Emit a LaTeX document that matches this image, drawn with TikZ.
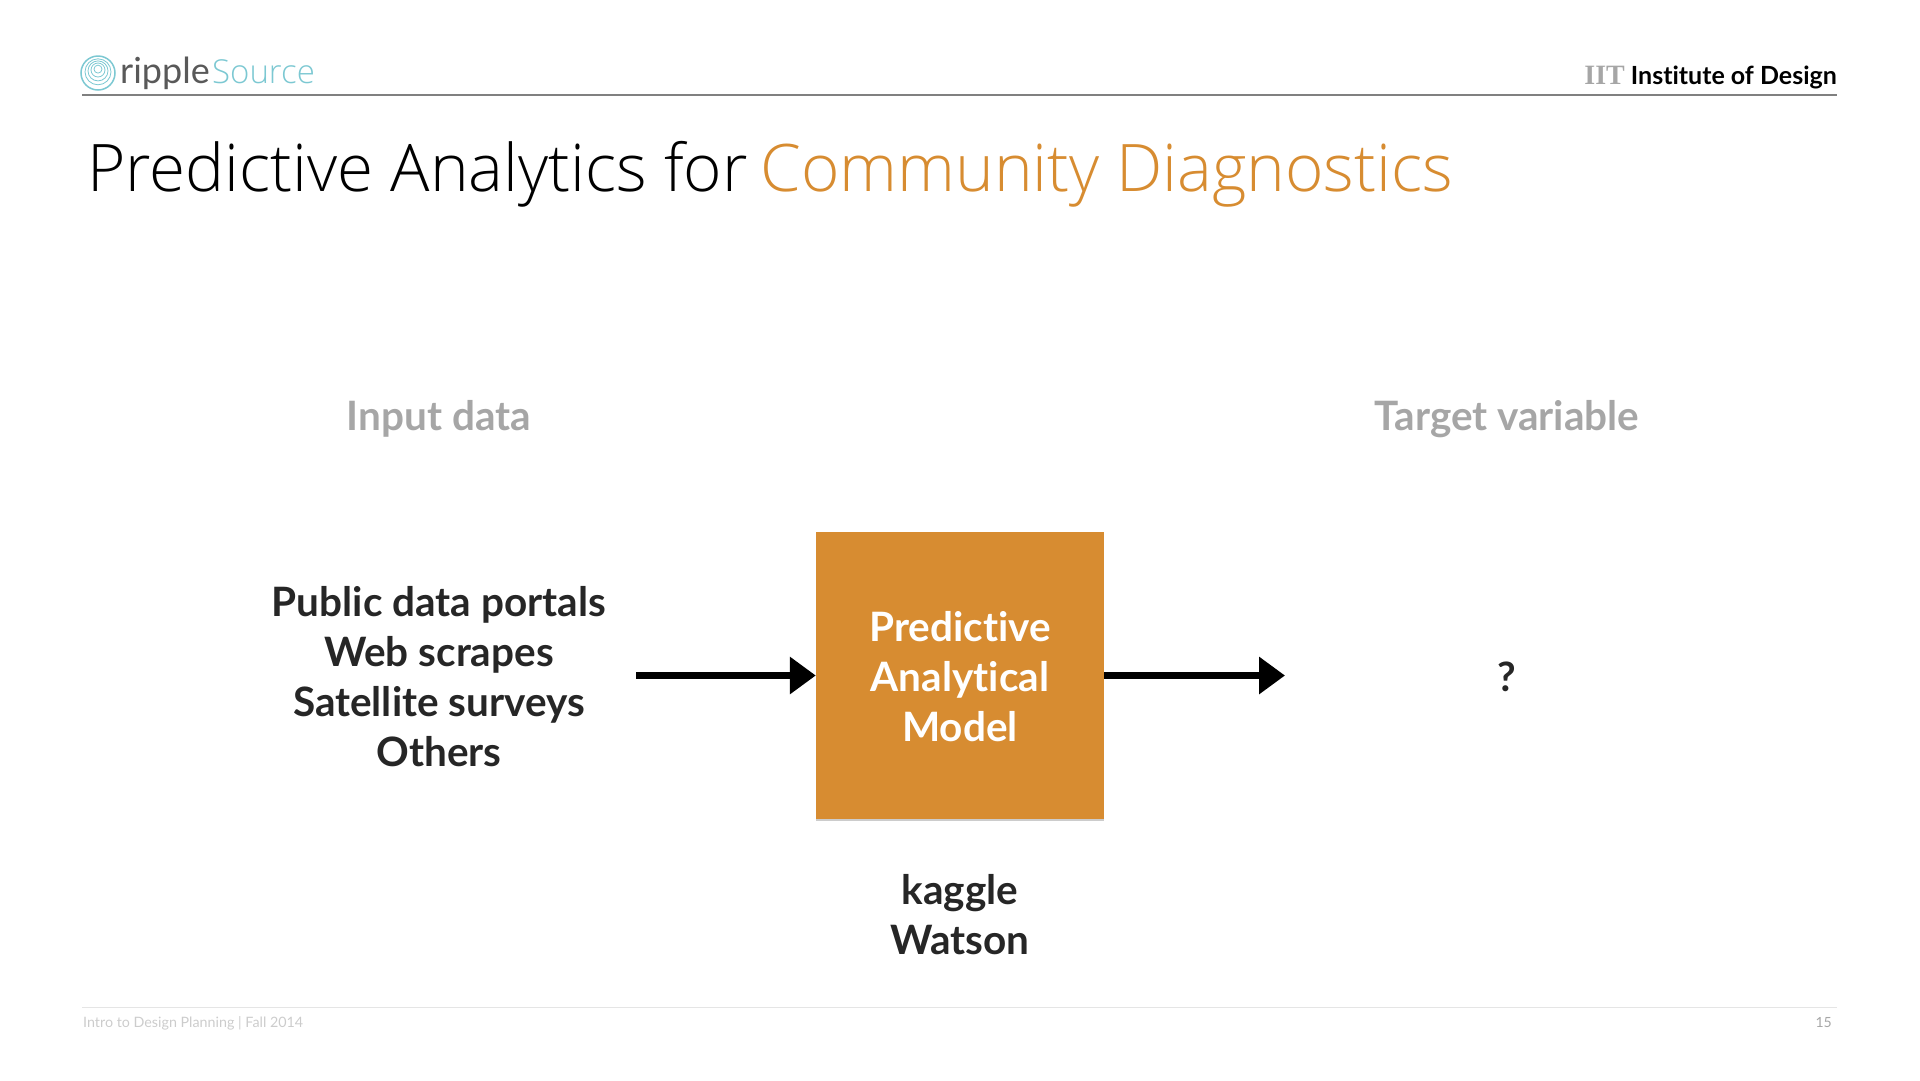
\documentclass[tikz,border=0pt]{standalone}
\usepackage{fontspec}
\usepackage{xcolor}
\setmainfont[Ligatures=CommonOff]{Lato}
\newfontfamily\titlefont{Open Sans Light}
\newfontfamily\slabfont{Liberation Serif}
\usetikzlibrary{arrows.meta, positioning, shadows}
\definecolor{modelorange}{HTML}{D78C31}
\definecolor{rippleteal}{HTML}{7CC8D2}
\definecolor{headgray}{HTML}{A6A6A6}
\definecolor{darktext}{HTML}{262626}
\tikzset{
    bigtext/.style={align=center, inner sep=0pt, text=darktext, font=\fontsize{40.5}{50}\selectfont\bfseries},
    headtext/.style={inner sep=0pt, text=headgray, font=\fontsize{40.5}{50}\selectfont\bfseries},
    flowarrow/.style={line width=7pt, -{Triangle[length=26pt, width=36pt]}}
}
\begin{document}
\begin{tikzpicture}[x=1pt, y=-1pt]
    \useasboundingbox (0,0) rectangle (1920,1080);
    % top bar
    \draw[gray, line width=1.5pt] (82,95) -- (1837,95);
    \foreach \r/\w in {17/1.5, 13/.8, 10/.8, 7/.8, 4/.8} {
        \draw[rippleteal, line width=\w pt] (98,{73-(17-\r)*.3}) circle (\r);
    }
    \node[anchor=base west, inner sep=0pt, text=black!65, font=\fontsize{36}{50}\selectfont] (ripple) at (120,83) {ripple};
    \node[anchor=base west, inner sep=0pt, text=rippleteal, font=\fontsize{33}{50}\titlefont] (source) at (212,83) {Source};
    \node[anchor=base east, inner sep=0pt, font=\fontsize{25}{30}\selectfont\bfseries] (iit) at (1837,84) {{\fontsize{28}{30}\slabfont\textcolor{headgray}{IIT}} Institute of Design};
    % title
    \node[anchor=base west, inner sep=0pt, font=\fontsize{65.6}{70}\titlefont] (title) at (87,191) {Predictive Analytics for\hspace{-4.5pt} \textcolor{modelorange}{Community Diagnostics}};
    % headings
    \node[headtext] (inhead) at (439,419) {Input data};
    \node[headtext] (outhead) at (1507,419) {Target variable};
    % the model and its neighbours
    \node[fill=modelorange, minimum width=288pt, minimum height=287pt, inner sep=0pt, drop shadow={shadow xshift=0pt, shadow yshift=-2pt, opacity=.2, fill=black}] (model) at (960,675.5) {};
    \node[bigtext, text=white] (modeltext) at (960,677) {Predictive\\Analytical\\Model};
    \node[bigtext] (inputs) at (439,677) {Public data portals\\Web scrapes\\Satellite surveys\\Others};
    \node[bigtext] (target) at (1507,677) {?};
    \node[bigtext] (tools) at (960,915) {kaggle\\Watson};
    \coordinate (instart) at (636,675.5);
    \coordinate (outend) at (1285,675.5);
    \draw[flowarrow] (instart) -- (model);
    \draw[flowarrow] (model) -- (outend);
    % footer
    \draw[black!10, line width=1pt] (82,1007) -- (1837,1007);
    \node[anchor=base west, inner sep=0pt, text=black!20, font=\fontsize{14.3}{20}\selectfont] (foot) at (83,1027) {Intro to Design Planning | Fall 2014};
    \node[anchor=base east, inner sep=0pt, text=black!35, font=\fontsize{14}{20}\selectfont] (page) at (1832,1027) {15};
\end{tikzpicture}
\end{document}
